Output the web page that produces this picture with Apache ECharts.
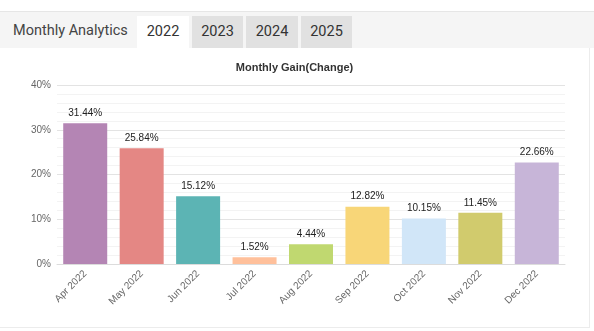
<!DOCTYPE html>
<html><head><meta charset="utf-8">
<script src="https://cdn.jsdelivr.net/npm/echarts@6/dist/echarts.min.js"></script>
<style>
html,body{margin:0;padding:0;width:594px;height:331px;background:#fff;overflow:hidden;}
#top{position:absolute;left:0;top:11px;width:594px;height:1px;background:#e6e6e6;}
#tabs{position:absolute;left:0;top:12px;width:594px;height:36px;background:#f5f5f5;font-family:Roboto,"Liberation Sans",sans-serif;}
#tabs .h{position:absolute;left:13px;top:10px;font-size:14.5px;color:#444;font-weight:400;}
#tabs .t{position:absolute;top:4px;height:32px;line-height:32px;text-align:center;font-size:14.5px;color:#333;background:#e1e1e1;}
#tabs .t.a{background:#fff;}
#rline{position:absolute;left:589px;top:48px;width:1px;height:280px;background:#ececec;}
#bline{position:absolute;left:0;top:327px;width:590px;height:1px;background:#ececec;}
#chart{position:absolute;left:0;top:48px;width:589px;height:279px;}
</style></head>
<body>
<div id="top"></div>
<div id="tabs"><span class="h">Monthly Analytics</span></div>
<div id="rline"></div><div id="bline"></div>
<div id="chart"></div>
<script>
const title = "Monthly Gain(Change)";
const tabTitle = "Monthly Analytics";
const years = ["2022", "2023", "2024", "2025"];
const months = ["Apr 2022","May 2022","Jun 2022","Jul 2022","Aug 2022","Sep 2022","Oct 2022","Nov 2022","Dec 2022"];
const gains = [31.44, 25.84, 15.12, 1.52, 4.44, 12.82, 10.15, 11.45, 22.66];
const barColors = ["#b485b4","#e48784","#5cb4b4","#ffc09b","#c0d870","#f8d678","#d1e6f8","#d1cb6d","#c7b5d8"];
const yTicks = [0, 10, 20, 30, 40];

const tabPos = [[137,52],[192,51],[246,52],[301,51]];
const tabs = document.getElementById('tabs');
years.forEach((y,i)=>{
  const d=document.createElement('div');
  d.className='t'+(i===0?' a':'');
  d.style.left=tabPos[i][0]+'px';d.style.width=tabPos[i][1]+'px';
  d.textContent=y;tabs.appendChild(d);
});

const FF='"Liberation Sans",Arial,sans-serif';
const chart = echarts.init(document.getElementById('chart'), null, {renderer:'canvas'});
chart.setOption({
  animation:false,
  title:{text:title,left:'center',top:9,textStyle:{fontFamily:FF,fontSize:11,fontWeight:'bold',color:'#333'}},
  grid:{left:57,right:24,top:37,bottom:63,containLabel:false},
  xAxis:{type:'category',data:months,
    axisLine:{lineStyle:{color:'#dcdcdc'}},axisTick:{show:false},
    axisLabel:{rotate:45,interval:0,fontSize:10,color:'#666',fontFamily:FF,margin:8}},
  yAxis:{type:'value',min:yTicks[0],max:yTicks[yTicks.length-1],interval:10,
    axisLine:{show:false},axisTick:{show:false},
    axisLabel:{formatter:'{value}%',fontSize:10,color:'#666',fontFamily:FF,margin:6},
    splitLine:{lineStyle:{color:'#e3e3e3'}},
    minorTick:{show:false,splitNumber:5},
    minorSplitLine:{show:true,lineStyle:{color:'#f3f3f3'}}},
  series:[{type:'bar',barWidth:44,
    data:gains.map((v,i)=>({value:v,itemStyle:{color:barColors[i]}})),
    label:{show:true,position:'top',formatter:p=>p.value.toFixed(2)+'%',fontSize:10,color:'#222',fontFamily:FF,distance:5}}]
});
</script>
</body></html>
